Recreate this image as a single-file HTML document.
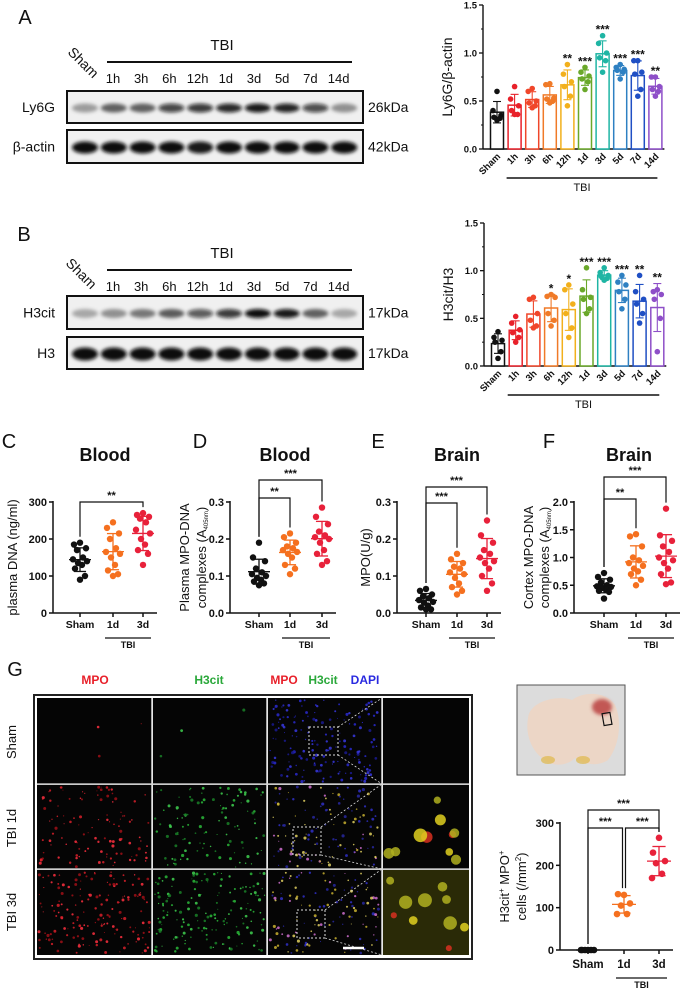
<!DOCTYPE html>
<html><head><meta charset="utf-8"><style>
html,body{margin:0;padding:0;background:#fff;}
svg{display:block;font-family:"Liberation Sans",Arial,sans-serif;}
</style></head><body>
<svg id="fig" width="689" height="992" viewBox="0 0 689 992" xmlns="http://www.w3.org/2000/svg">
<defs><filter id="blur" x="-20%" y="-80%" width="140%" height="260%"><feGaussianBlur stdDeviation="1.8"/></filter></defs>
</svg>
<script>
// ---------- DATA ----------
const timeCats = ["Sham","1h","3h","6h","12h","1d","3d","5d","7d","14d"];
const timeColors = ["#111","#e8212a","#f0462a","#f07a28","#f2b01c","#6aa82a","#1fb5a4","#2e80c2","#1f4fc4","#8e4fc8"];
const ly6gPoints = [[.60,.40,.35,.33,.32,.30],[.65,.52,.45,.40,.36,.36],[.63,.60,.50,.48,.45,.43],[.68,.67,.53,.52,.50,.48],[.88,.78,.70,.65,.55,.45],[.85,.80,.76,.73,.70,.62],[1.18,1.10,1.00,.95,.92,.80],[.88,.85,.83,.82,.80,.73],[.92,.92,.80,.78,.62,.55],[.75,.75,.65,.62,.60,.55]];
const ly6gStars = ["","","","","**","***","***","***","***","**"];
const h3Points = [[.36,.30,.27,.25,.15,.08],[.52,.45,.38,.35,.30,.25],[.72,.70,.55,.48,.42,.40],[.75,.73,.72,.55,.48,.42],[.85,.80,.65,.55,.40,.30],[1.03,.80,.72,.70,.60,.55],[1.03,.98,.95,.94,.92,.90],[.95,.88,.85,.78,.70,.60],[.95,.78,.70,.65,.55,.45],[.80,.78,.75,.70,.50,.15]];
const h3Stars = ["","","","*","*","***","***","***","**","**"];
const barTicks = [0,0.5,1.0,1.5];
const barTickLabels = ["0.0","0.5","1.0","1.5"];
const ly6gBands = [.35,.6,.6,.75,.8,.88,.95,.9,.72,.4];
const actinBands = [1,1,1,1,.95,1,1,1,1,1];
const h3citBands = [.3,.4,.5,.62,.66,.8,1,.95,.6,.3];
const h3Bands = [1,1,1,1,1,1,1,1,1,1];
const grpCats = ["Sham","1d","3d"];
const grpColors = ["#111","#f5701f","#e8213a"];
const cPoints = [[190,185,175,170,150,145,140,135,130,120,100,90],[245,230,215,200,175,165,160,150,130,115,105,100],[270,265,260,255,245,225,215,200,185,170,160,130]];
const dPoints = [[.19,.15,.14,.12,.11,.105,.10,.095,.09,.085,.08,.075],[.215,.205,.19,.18,.175,.17,.165,.16,.15,.13,.12,.105],[.285,.26,.24,.22,.21,.205,.20,.19,.17,.16,.14,.13]];
const ePoints = [[.065,.06,.05,.045,.04,.035,.03,.028,.02,.015,.01,.01],[.16,.145,.135,.125,.12,.11,.105,.095,.08,.07,.06,.05],[.25,.21,.19,.17,.16,.15,.14,.135,.12,.10,.08,.06]];
const fPoints = [[.72,.65,.6,.55,.5,.48,.47,.45,.42,.40,.38,.26],[1.42,1.38,1.2,1.0,.95,.9,.85,.8,.75,.7,.6,.5],[1.88,1.4,1.3,1.2,1.1,1.0,.95,.9,.8,.7,.55,.52]];
const gPoints = [[0,0,0,0,0,0],[130,132,110,105,85,85],[265,230,210,205,180,170]];
const cTicks = [0,100,200,300]; const cTickLabels = ["0","100","200","300"];
const dTicks = [0,.1,.2,.3]; const dTickLabels = ["0.0","0.1","0.2","0.3"];
const fTicks = [0,.5,1,1.5,2]; const fTickLabels = ["0.0","0.5","1.0","1.5","2.0"];

// ---------- HELPERS ----------
const NS="http://www.w3.org/2000/svg";
const svg=document.getElementById('fig');
function mk(tag,attrs,name,parent){
  const el=document.createElementNS(NS,tag);
  for(const k in attrs) el.setAttribute(k,attrs[k]);
  
  
  (parent||svg).appendChild(el); return el;
}
function txt(x,y,s,name,o){
  o=o||{};
  const el=mk('text',{x:x,y:y,'font-size':o.size||10,'font-weight':o.weight||'bold','text-anchor':o.anchor||'middle',fill:o.fill||'#111'},name,o.parent);
  if(o.rot!==undefined) el.setAttribute('transform','rotate('+o.rot+' '+x+' '+y+')');
  el.textContent=s; return el;
}
function ln(x1,y1,x2,y2,name,o){o=o||{};return mk('line',{x1:x1,y1:y1,x2:x2,y2:y2,stroke:o.stroke||'#111','stroke-width':o.w||1.3,'stroke-dasharray':o.dash||'none'},name,o.parent);}
function mean(a){return a.reduce((s,v)=>s+v,0)/a.length;}
function sd(a){const m=mean(a);return Math.sqrt(a.reduce((s,v)=>s+(v-m)*(v-m),0)/(a.length-1));}

// ---------- BLOTS ----------
function blot(cfg){
  txt(cfg.letterX,cfg.letterY,cfg.letter,'panel-label-'+cfg.letter.toLowerCase(),{size:20,weight:'normal'});
  txt(cfg.shamX,cfg.shamY,'Sham','blot-sham-label',{size:14,weight:'normal',rot:45,anchor:'middle'});
  txt(222,cfg.tbiY,'TBI','blot-tbi-label',{size:15,weight:'normal'});
  ln(107,cfg.tbiY+12,352,cfg.tbiY+12,'blot-tbi-line',{w:2});
  for(let i=1;i<10;i++) txt(113+(i-1)*28.2,cfg.timeY,timeCats[i],'blot-lane-label-'+timeCats[i],{size:13,weight:'normal'});
  cfg.rows.forEach((r,ri)=>{
    const g=mk('g',{},'blot-'+r.name);
    mk('rect',{x:67,y:r.y,width:296,height:r.h,fill:'#f0f0f0',stroke:'#111','stroke-width':2},'blot-frame-'+r.name,g);
    r.bands.forEach((v,i)=>{
      const cx=85+i*28.8;
      mk('ellipse',{cx:cx,cy:r.y+r.h/2+1,rx:13,ry:r.ry,fill:'#0a0a0a','fill-opacity':v,filter:'url(#blur)'},'band-'+r.name+'-'+timeCats[i],g);
    });
    txt(55,r.y+r.h/2+5,r.label,'blot-protein-label-'+r.name,{size:14,weight:'normal',anchor:'end'});
    txt(368,r.y+r.h/2+5,r.kda,'blot-kda-label-'+r.name,{size:14,weight:'normal',anchor:'start'});
  });
}
blot({letter:'A',letterX:25,letterY:24,shamX:80,shamY:66,tbiY:50,timeY:83,rows:[
  {name:'ly6g',label:'Ly6G',kda:'26kDa',y:91,h:32,ry:4.5,bands:ly6gBands},
  {name:'beta-actin',label:'β-actin',kda:'42kDa',y:130,h:33,ry:6,bands:actinBands}]});
blot({letter:'B',letterX:24,letterY:241,shamX:78,shamY:277,tbiY:258,timeY:291,rows:[
  {name:'h3cit',label:'H3cit',kda:'17kDa',y:296,h:33,ry:4.5,bands:h3citBands},
  {name:'h3',label:'H3',kda:'17kDa',y:337,h:32,ry:6.5,bands:h3Bands}]});

// ---------- BAR CHARTS ----------
function barChart(cfg){
  const g=mk('g',{},cfg.name);
  const yS=v=>cfg.y0-(v/1.5)*(cfg.y0-cfg.yTop);
  const xS=i=>cfg.x0+i*cfg.step;
  ln(cfg.ax,cfg.yTop,cfg.ax,cfg.y0,cfg.name+'-y-axis',{parent:g,w:1.4});
  ln(cfg.ax,cfg.y0,xS(9)+9,cfg.y0,cfg.name+'-x-axis',{parent:g,w:1.4});
  barTicks.forEach((t,i)=>{
    ln(cfg.ax-4,yS(t),cfg.ax,yS(t),cfg.name+'-y-tick',{parent:g});
    txt(cfg.ax-6,yS(t)+3.5,barTickLabels[i],cfg.name+'-y-tick-label',{size:9.5,anchor:'end',parent:g});
    if(i<barTicks.length-1) ln(cfg.ax-2,yS(t+0.25),cfg.ax,yS(t+0.25),cfg.name+'-y-minor-tick',{parent:g,w:1});
  });
  txt(cfg.ylx,(cfg.y0+cfg.yTop)/2,cfg.ylabel,cfg.name+'-y-axis-title',{size:14,weight:'normal',rot:-90,parent:g});
  cfg.points.forEach((pts,i)=>{
    const m=mean(pts),s=sd(pts),cx=xS(i),col=timeColors[i];
    mk('rect',{x:cx-6.5,y:yS(m),width:13,height:cfg.y0-yS(m),fill:'#fff',stroke:col,'stroke-width':1.5},cfg.name+'-bar-'+timeCats[i],g);
    ln(cx,yS(m-s),cx,yS(m+s),cfg.name+'-errorbar-'+timeCats[i],{parent:g,stroke:col,w:1.1});
    ln(cx-4,yS(m+s),cx+4,yS(m+s),cfg.name+'-errorcap',{parent:g,stroke:col,w:1.1});
    ln(cx-4,yS(m-s),cx+4,yS(m-s),cfg.name+'-errorcap',{parent:g,stroke:col,w:1.1});
    const jit=[0,-4,4,-3,3,0];
    pts.forEach((v,j)=>mk('circle',{cx:cx+jit[j],cy:yS(v),r:2.8,fill:col},cfg.name+'-point-'+timeCats[i],g));
    const top=Math.max(Math.max(...pts),m+s);
    if(cfg.stars[i]) txt(cx,yS(top)-2,cfg.stars[i],cfg.name+'-sig-'+timeCats[i],{size:12,parent:g});
    txt(cx+4,cfg.y0+8,timeCats[i],cfg.name+'-x-label-'+timeCats[i],{size:9.5,anchor:'end',rot:-45,parent:g});
  });
  ln(xS(1)-8,cfg.tbiY,xS(9)+2,cfg.tbiY,cfg.name+'-tbi-line',{parent:g,w:1.6});
  txt((xS(1)+xS(9))/2-3,cfg.tbiY+13,'TBI',cfg.name+'-tbi-label',{size:11,weight:'normal',parent:g});
}
barChart({name:'chart-a',points:ly6gPoints,stars:ly6gStars,ax:483,y0:149,yTop:5,x0:497,step:17.6,ylx:452,ylabel:'Ly6G/β-actin',tbiY:178});
barChart({name:'chart-b',points:h3Points,stars:h3Stars,ax:484,y0:366,yTop:223,x0:498,step:17.7,ylx:453,ylabel:'H3cit/H3',tbiY:395});

// ---------- SCATTER CHARTS ----------
function dotChart(cfg){
  const g=mk('g',{},cfg.name);
  const yS=v=>cfg.y0-(v/cfg.max)*(cfg.y0-cfg.yTop);
  ln(cfg.ax,cfg.yTop-1,cfg.ax,cfg.y0,cfg.name+'-y-axis',{parent:g,w:1.5});
  ln(cfg.ax,cfg.y0,cfg.gx[2]+14,cfg.y0,cfg.name+'-x-axis',{parent:g,w:1.5});
  cfg.ticks.forEach((t,i)=>{
    ln(cfg.ax-4,yS(t),cfg.ax,yS(t),cfg.name+'-y-tick',{parent:g,w:1.5});
    txt(cfg.ax-6,yS(t)+4,cfg.tickLabels[i],cfg.name+'-y-tick-label',{size:11,anchor:'end',parent:g});
  });
  if(cfg.title) txt(cfg.titleX,461,cfg.title,cfg.name+'-title',{size:18,parent:g});
  if(cfg.letter) txt(cfg.letterX,448,cfg.letter,'panel-label-'+cfg.letter.toLowerCase(),{size:20,weight:'normal',parent:g});
  cfg.ylabels.forEach((l,k)=>{
    const t=txt(l.x,(cfg.y0+cfg.yTop)/2,'',cfg.name+'-y-axis-title',{size:l.size||13,weight:'normal',rot:-90,parent:g});
    l.parts.forEach(p=>{
      const ts=document.createElementNS(NS,'tspan');
      ts.textContent=p.t;
      if(p.fs) ts.setAttribute('font-size',p.fs);
      if(p.dy) ts.setAttribute('dy',p.dy);
      t.appendChild(ts);
    });
  });
  const jit=[0,-6,6,-3,3,-7,7,-2,2,-5,5,0];
  cfg.points.forEach((pts,i)=>{
    const cx=cfg.gx[i],col=grpColors[i],m=mean(pts),s=sd(pts);
    ln(cx,cfg.y0,cx,cfg.y0+4,cfg.name+'-x-tick',{parent:g,w:1.5});
    pts.forEach((v,j)=>mk('circle',{cx:cx+jit[j%12],cy:yS(v),r:cfg.r||3.2,fill:col},cfg.name+'-point-'+grpCats[i],g));
    ln(cx-cfg.mw,yS(m),cx+cfg.mw,yS(m),cfg.name+'-mean-'+grpCats[i],{parent:g,stroke:col,w:1.3});
    ln(cx,yS(m-s),cx,yS(m+s),cfg.name+'-sd-'+grpCats[i],{parent:g,stroke:col,w:1.3});
    ln(cx-cfg.mw*0.55,yS(m+s),cx+cfg.mw*0.55,yS(m+s),cfg.name+'-sd-cap',{parent:g,stroke:col,w:1.3});
    ln(cx-cfg.mw*0.55,yS(m-s),cx+cfg.mw*0.55,yS(m-s),cfg.name+'-sd-cap',{parent:g,stroke:col,w:1.3});
    txt(cx,cfg.labY,grpCats[i],cfg.name+'-x-label-'+grpCats[i],{size:cfg.lsize||10.5,parent:g});
  });
  ln(cfg.gx[1]-8,cfg.labY+10,cfg.gx[2]+8,cfg.labY+10,cfg.name+'-tbi-line',{parent:g,w:1.3});
  txt((cfg.gx[1]+cfg.gx[2])/2,cfg.labY+20,'TBI',cfg.name+'-tbi-label',{size:9,parent:g});
  cfg.brackets.forEach(b=>{
    const x1=cfg.gx[b[0]]+(b[3]||0),x2=cfg.gx[b[1]]-(b[4]||0);
    const e1=yS(Math.max(...cfg.points[b[0]]))-6,e2=yS(Math.max(...cfg.points[b[1]]))-6;
    mk('polyline',{points:[x1,e1,x1,b[2],x2,b[2],x2,e2].join(','),fill:'none',stroke:'#111','stroke-width':1.2},cfg.name+'-sig-bracket',g);
    txt((x1+x2)/2,b[2]-3,b[5],cfg.name+'-sig-stars',{size:11,parent:g});
  });
}
const a405=[{t:'complexes (A'},{t:'405nm',fs:6,dy:2},{t:')',dy:-2}];
dotChart({name:'chart-c',letter:'C',letterX:9,title:'Blood',titleX:105,ax:53,y0:613,yTop:502,max:300,gx:[80,113,143],points:cPoints,ticks:cTicks,tickLabels:cTickLabels,mw:11,labY:628,
  ylabels:[{x:17,parts:[{t:'plasma DNA (ng/ml)'}]}],brackets:[[0,2,502,0,0,'**']]});
dotChart({name:'chart-d',letter:'D',letterX:200,title:'Blood',titleX:285,ax:230,y0:613,yTop:502,max:.3,gx:[259,290,322],points:dPoints,ticks:dTicks,tickLabels:dTickLabels,mw:11,labY:628,
  ylabels:[{x:189,parts:[{t:'Plasma MPO-DNA'}]},{x:206,parts:a405}],brackets:[[0,1,498,0,0,'**'],[0,2,480,0,0,'***']]});
dotChart({name:'chart-e',letter:'E',letterX:378,title:'Brain',titleX:457,ax:397,y0:613,yTop:502,max:.3,gx:[426,457,487],points:ePoints,ticks:dTicks,tickLabels:dTickLabels,mw:11,labY:628,
  ylabels:[{x:370,parts:[{t:'MPO(U/g)'}]}],brackets:[[0,1,503,0,0,'***'],[0,2,487,0,0,'***']]});
dotChart({name:'chart-f',letter:'F',letterX:549,title:'Brain',titleX:629,ax:574,y0:613,yTop:502,max:2,gx:[604,636,666],points:fPoints,ticks:fTicks,tickLabels:fTickLabels,mw:11,labY:628,
  ylabels:[{x:533,parts:[{t:'Cortex MPO-DNA'}]},{x:549,parts:a405}],brackets:[[0,1,499,0,0,'**'],[0,2,477,0,0,'***']]});
dotChart({name:'chart-g',ax:560,y0:950,yTop:823,max:300,gx:[588,624,659],points:gPoints,ticks:cTicks,tickLabels:cTickLabels,mw:12,r:3.3,labY:968,lsize:11.5,
  ylabels:[{x:509,parts:[{t:'H3cit'},{t:'+',fs:8,dy:-5},{t:' MPO',dy:5},{t:'+',fs:8,dy:-5}]},{x:526,parts:[{t:'cells (/mm',dy:0},{t:'2',fs:8,dy:-5},{t:')',dy:5}]}],brackets:[[0,1,828,0,1.5,'***'],[1,2,828,1.5,0,'***'],[0,2,810,0,0,'***']]});

// ---------- PANEL G IMAGES ----------
txt(15,676,'G','panel-label-g',{size:20,weight:'normal'});
txt(95,684,'MPO','g-column-title-mpo',{size:12,fill:'#e8202a'});
txt(209,684,'H3cit','g-column-title-h3cit',{size:12,fill:'#2aa83a'});
txt(284,684,'MPO','g-merge-title-mpo',{size:12,fill:'#e8202a'});
txt(323,684,'H3cit','g-merge-title-h3cit',{size:12,fill:'#2aa83a'});
txt(365,684,'DAPI','g-merge-title-dapi',{size:12,fill:'#2a2ae0'});
txt(16,742,'Sham','g-row-label-sham',{size:13,weight:'normal',rot:-90});
txt(16,828,'TBI 1d','g-row-label-tbi-1d',{size:13,weight:'normal',rot:-90});
txt(16,912,'TBI 3d','g-row-label-tbi-3d',{size:13,weight:'normal',rot:-90});
mk('rect',{x:34,y:695,width:438,height:264,fill:'#fff',stroke:'#222','stroke-width':2},'g-image-frame');
const colX=[37,152,267,382,469], rowY=[698,784,869,955];
let seed=7; function rnd(){seed=(seed*16807)%2147483647;return seed/2147483647;}
for(let r=0;r<3;r++){for(let c=0;c<4;c++){
  const x=colX[c]+(c?1:0),y=rowY[r]+(r?1:0),w=colX[c+1]-colX[c]-(c?1:0),h=rowY[r+1]-rowY[r]-(r?1:0);
  const cg=mk('g',{},'micrograph-r'+r+'-c'+c);
  mk('rect',{x:x,y:y,width:w,height:h,fill:'#050505'},'micrograph-bg',cg);
  let n,cols;
  if(c===0){n=r===0?3:(r===1?110:160);cols=['#d8202a','#a01018','#ff3040'];}
  else if(c===1){n=r===0?3:(r===1?110:160);cols=['#2ab83a','#1a8028','#40d050'];}
  else if(c===2){n=r?130:160;cols=r?['#3030c8','#c8b030','#d070d0','#2828a0','#e0d060']:['#2a2ad0','#1a1a90','#3838e0'];}
  else {n=r?10:0;cols=['#e0d020','#d83020','#b0b020'];}
  if(r===2&&c===3) mk('rect',{x:x,y:y,width:w,height:h,fill:'#3a3a08','fill-opacity':0.7},'micrograph-haze',cg);
  for(let k=0;k<n;k++){
    const rr=c===3?(3+rnd()*4):(0.5+rnd()*1.1);
    mk('circle',{cx:x+2+rnd()*(w-4),cy:y+2+rnd()*(h-4),r:rr,fill:cols[Math.floor(rnd()*cols.length)],'fill-opacity':0.85},'cell',cg);
  }
}}
ln(37,784,469,784,'g-grid-line',{stroke:'#bbb',w:1.5});ln(37,869,469,869,'g-grid-line',{stroke:'#bbb',w:1.5});
[152,267,382].forEach(x=>ln(x,698,x,955,'g-grid-line',{stroke:'#ddd',w:1.5}));
[[309,727,29,28],[293,827,28,28],[297,910,28,28]].forEach((b,i)=>{
  mk('rect',{x:b[0],y:b[1],width:b[2],height:b[3],fill:'none',stroke:'#ddd','stroke-width':1,'stroke-dasharray':'2,2'},'g-zoom-box-'+i);
  ln(b[0]+b[2],b[1],382,rowY[i],'g-zoom-line',{stroke:'#ddd',w:0.8,dash:'2,2'});
  ln(b[0]+b[2],b[1]+b[3],382,rowY[i+1],'g-zoom-line',{stroke:'#ddd',w:0.8,dash:'2,2'});
});
ln(343,948,364,948,'g-scale-bar',{stroke:'#fff',w:2.5});
// brain photo
mk('rect',{x:517,y:685,width:108,height:90,fill:'#dcdcdc',stroke:'#555','stroke-width':1},'brain-photo-frame');
mk('path',{d:'M528,718 C530,700 560,695 572,700 C582,692 605,690 615,705 C622,720 620,745 608,760 C596,768 582,763 575,758 C566,767 552,766 545,760 C532,752 525,735 528,718 Z',fill:'#ecd6c6'},'brain-photo-tissue');
mk('ellipse',{cx:602,cy:707,rx:10,ry:8,fill:'#b83a3a','fill-opacity':0.8,filter:'url(#blur)'},'brain-photo-lesion');
mk('ellipse',{cx:548,cy:760,rx:7,ry:4,fill:'#e0b84a','fill-opacity':0.7},'brain-photo-yellow');
mk('ellipse',{cx:583,cy:760,rx:7,ry:4,fill:'#e0b84a','fill-opacity':0.7},'brain-photo-yellow');
mk('rect',{x:603,y:713,width:8,height:12,fill:'none',stroke:'#111','stroke-width':1.2,transform:'rotate(-10 607 719)'},'brain-photo-roi');
</script>
</body></html>
